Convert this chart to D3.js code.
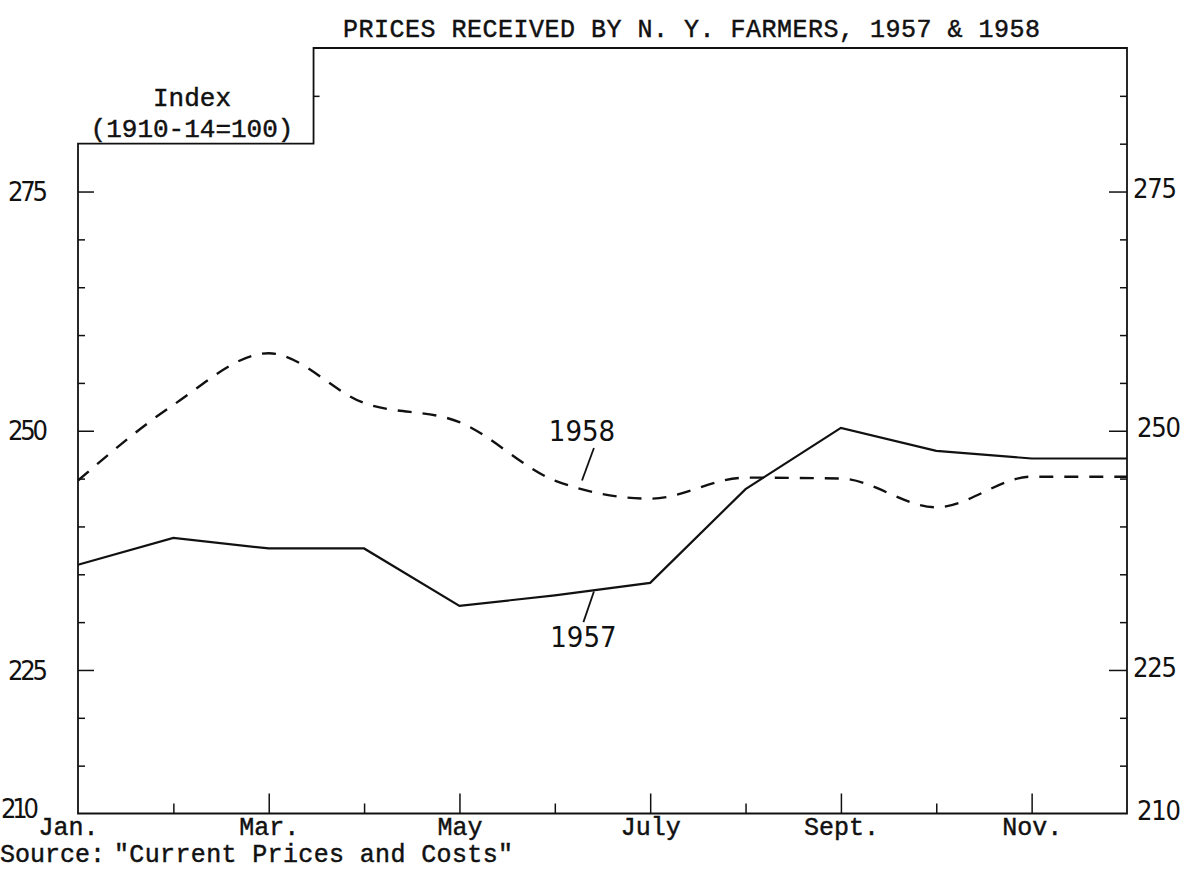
<!DOCTYPE html>
<html>
<head>
<meta charset="utf-8">
<script src="https://cdn.jsdelivr.net/npm/d3@7"></script>
<style>
  body { margin: 0; background: #fff; }
  svg { display: block; }
  .tw { font-family: "Liberation Mono", "DejaVu Sans Mono", monospace; fill: #111; stroke: #111; stroke-width: 0.45; }
  .num { font-family: "DejaVu Sans"; font-stretch: condensed; fill: #111; }
</style>
</head>
<body>
<svg id="chart" width="1200" height="882"></svg>
<script>
// 月ラベル（奇数月のみ表示）
const months = ["Jan.", "Feb.", "Mar.", "Apr.", "May", "June", "July", "Aug.", "Sept.", "Oct.", "Nov.", "Dec."];
const labeledMonths = ["Jan.", "Mar.", "May", "July", "Sept.", "Nov."];

// 指数 (1910-14=100)
const prices1957 = [236.0, 238.8, 237.7, 237.7, 231.7, 232.8, 234.1, 243.9, 250.3, 247.9, 247.1, 247.1];
const prices1958 = [244.8, 252.7, 258.1, 252.9, 250.9, 244.8, 242.9, 245.1, 245.0, 242.0, 245.2, 245.2];

// 目盛り
const yLabels = [210, 225, 250, 275];
const yMajorTicks = [225, 250, 275];
const yMinorLeft = [215, 220, 230, 235, 240, 245, 255, 260, 265, 270];
const yMinorRight = [215, 220, 230, 235, 240, 245, 255, 260, 265, 270, 280, 285];
const yStepTicks = [285];

const svg = d3.select("#chart");

const x = d3.scaleLinear().domain([0, 11]).range([78, 1127]);
const y = d3.scaleLinear().domain([210, 290]).range([813.5, 48]);

const stepMonth = 2.47;   // 左上の段差の位置（月単位）
const yStep = 280;        // 左側の枠の上端

// 枠（段差つき）
const frame = d3.path();
frame.moveTo(x(0), y(210));
frame.lineTo(x(0), y(yStep));
frame.lineTo(x(stepMonth), y(yStep));
frame.lineTo(x(stepMonth), y(290));
frame.lineTo(x(11), y(290));
frame.lineTo(x(11), y(210));
frame.closePath();
svg.append("path")
    .attr("d", frame.toString())
    .attr("fill", "none")
    .attr("stroke", "#111")
    .attr("stroke-width", 1.8);

// 左軸の目盛り（内向き）
function tickStyle(g) {
    g.select(".domain").remove();
    g.selectAll(".tick line").attr("stroke", "#111").attr("stroke-width", 1.5);
}
svg.append("g")
    .attr("transform", `translate(${x(0)},0)`)
    .call(d3.axisLeft(y).tickValues(yMinorLeft).tickSize(-7).tickFormat(""))
    .call(tickStyle);
svg.append("g")
    .attr("transform", `translate(${x(0)},0)`)
    .call(d3.axisLeft(y).tickValues(yMajorTicks).tickSize(-16).tickFormat(""))
    .call(tickStyle);
svg.append("g")
    .attr("transform", `translate(${x(stepMonth)},0)`)
    .call(d3.axisLeft(y).tickValues(yStepTicks).tickSize(-6).tickFormat(""))
    .call(tickStyle);

// 右軸の目盛り（内向き）
svg.append("g")
    .attr("transform", `translate(${x(11)},0)`)
    .call(d3.axisRight(y).tickValues(yMinorRight).tickSize(-7).tickFormat(""))
    .call(tickStyle);
svg.append("g")
    .attr("transform", `translate(${x(11)},0)`)
    .call(d3.axisRight(y).tickValues(yMajorTicks).tickSize(-18).tickFormat(""))
    .call(tickStyle);

// 数値ラベル（左）
svg.append("g").selectAll("text")
    .data(yLabels)
    .join("text")
    .attr("class", "num")
    .attr("x", d => d === 210 ? 1 : x(0) - 30)
    .attr("y", d => y(d) - (d === 210 ? 5 : 0))
    .attr("dy", "0.36em")
    .attr("text-anchor", d => d === 210 ? "start" : "end")
    .attr("font-size", 27)
    .attr("textLength", d => d === 210 ? 38 : 40)
    .text(d => d);
// 数値ラベル（右）
svg.append("g").selectAll("text")
    .data(yLabels)
    .join("text")
    .attr("class", "num")
    .attr("x", d => x(11) + (d === 250 || d === 210 ? 10 : 6))
    .attr("y", d => y(d) - 3)
    .attr("dy", "0.36em")
    .attr("font-size", 27)
    .attr("textLength", 44)
    .text(d => d);

// 下軸
const xAxis = d3.axisBottom(x)
    .tickValues(d3.range(months.length))
    .tickSize(0)
    .tickPadding(4)
    .tickFormat(i => labeledMonths.includes(months[i]) ? months[i] : "");
const gx = svg.append("g")
    .attr("transform", `translate(0,${y(210)})`)
    .call(xAxis);
gx.select(".domain").remove();
gx.selectAll(".tick line")
    .attr("y2", i => labeledMonths.includes(months[i]) ? -20 : -10)
    .attr("stroke", "#111")
    .attr("stroke-width", 1.5);
gx.selectAll(".tick text")
    .attr("class", "tw")
    .attr("font-size", 25)
    .attr("dx", i => i === 0 ? -10 : 0);
gx.selectAll(".tick").filter(i => i === 0 || i === 11).select("line").remove();

// 線
const line = d3.line()
    .x((d, i) => x(i))
    .y(d => y(d));

svg.append("path")
    .datum(prices1957)
    .attr("fill", "none")
    .attr("stroke", "#111")
    .attr("stroke-width", 2.2)
    .attr("d", line);

svg.append("path")
    .datum(prices1958)
    .attr("fill", "none")
    .attr("stroke", "#111")
    .attr("stroke-width", 2.4)
    .attr("stroke-dasharray", "14,11")
    .attr("d", line.curve(d3.curveMonotoneX));

// 系列ラベルと引出線
const seriesLabels = [
    {name: "1958", month: 5.285, value: 248.95, from: [5.41, 248.2], to: [5.285, 244.8]},
    {name: "1957", month: 5.3, value: 227.4, from: [5.41, 233.2], to: [5.30, 230.0]}
];
svg.append("g").selectAll("text")
    .data(seriesLabels)
    .join("text")
    .attr("class", "num")
    .attr("x", d => x(d.month))
    .attr("y", d => y(d.value))
    .attr("text-anchor", "middle")
    .attr("font-size", 29)
    .text(d => d.name);
svg.append("g").selectAll("line")
    .data(seriesLabels)
    .join("line")
    .attr("x1", d => x(d.from[0]))
    .attr("y1", d => y(d.from[1]))
    .attr("x2", d => x(d.to[0]))
    .attr("y2", d => y(d.to[1]))
    .attr("stroke", "#111")
    .attr("stroke-width", 1.8);

// タイトル・軸名・出典
svg.append("text")
    .attr("class", "tw")
    .attr("x", 343)
    .attr("y", 37)
    .attr("font-size", 25)
    .attr("textLength", 697)
    .text("PRICES RECEIVED BY N. Y. FARMERS, 1957 & 1958");

svg.append("text")
    .attr("class", "tw")
    .attr("x", 192)
    .attr("y", 106)
    .attr("text-anchor", "middle")
    .attr("font-size", 26)
    .text("Index");
svg.append("text")
    .attr("class", "tw")
    .attr("x", 192)
    .attr("y", 137)
    .attr("text-anchor", "middle")
    .attr("font-size", 26)
    .text("(1910-14=100)");

svg.append("text")
    .attr("class", "tw")
    .attr("x", 0)
    .attr("y", 862)
    .attr("font-size", 25)
    .text("Source:");
svg.append("text")
    .attr("class", "tw")
    .attr("x", 114)
    .attr("y", 862)
    .attr("font-size", 25)
    .attr("textLength", 399)
    .text("\"Current Prices and Costs\"");
</script>
</body>
</html>
